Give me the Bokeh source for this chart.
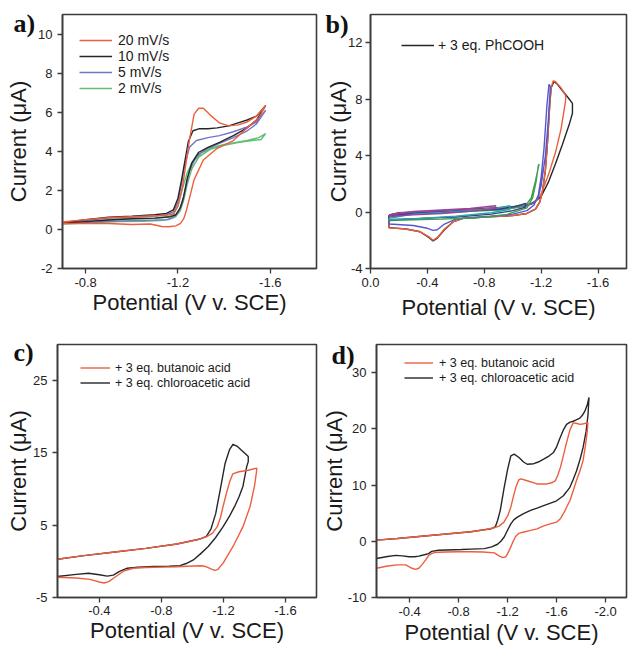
from bokeh.plotting import figure
from bokeh.models import Range1d, FixedTicker, PrintfTickFormatter, Legend, LegendItem
from bokeh.layouts import column, row
from bokeh.embed import file_html
from bokeh.resources import INLINE

# ---------------- data ----------------
# panel a: scan-rate series (potential V vs SCE, current uA)
a_red_v = [-0.70, -0.80, -0.90, -1.00, -1.10, -1.15, -1.18, -1.20, -1.22, -1.235, -1.25, -1.27, -1.29, -1.31, -1.34, -1.38, -1.42, -1.46, -1.50, -1.54, -1.58,
           -1.58, -1.55, -1.50, -1.44, -1.37, -1.31, -1.27, -1.25, -1.235, -1.225, -1.21, -1.19, -1.16, -1.13, -1.08, -1.00, -0.90, -0.80, -0.70]
a_red_i = [0.38, 0.50, 0.60, 0.65, 0.70, 0.72, 0.80, 1.20, 2.20, 3.40, 4.60, 5.90, 6.20, 6.20, 5.85, 5.45, 5.30, 5.35, 5.50, 5.80, 6.35,
           6.35, 5.70, 5.20, 4.55, 4.15, 3.55, 2.55, 1.60, 0.90, 0.55, 0.30, 0.18, 0.14, 0.15, 0.28, 0.25, 0.30, 0.30, 0.30]
a_blk_v = [-0.70, -0.80, -0.90, -1.00, -1.10, -1.15, -1.18, -1.20, -1.215, -1.23, -1.245, -1.265, -1.29, -1.33, -1.37, -1.42, -1.46, -1.50, -1.54, -1.58,
           -1.58, -1.54, -1.50, -1.44, -1.38, -1.33, -1.29, -1.26, -1.24, -1.225, -1.21, -1.19, -1.17, -1.14, -1.10, -1.00, -0.90, -0.80, -0.70]
a_blk_i = [0.35, 0.50, 0.62, 0.68, 0.75, 0.82, 1.00, 1.60, 2.50, 3.50, 4.50, 5.05, 5.15, 5.15, 5.20, 5.30, 5.45, 5.60, 5.80, 6.35,
           6.35, 5.60, 5.20, 4.80, 4.45, 4.20, 3.95, 3.40, 2.60, 1.70, 1.10, 0.75, 0.65, 0.62, 0.58, 0.55, 0.48, 0.40, 0.32]
a_blu_v = [-0.70, -0.80, -0.90, -1.00, -1.10, -1.15, -1.18, -1.20, -1.215, -1.23, -1.25, -1.28, -1.33, -1.38, -1.44, -1.50, -1.54, -1.58,
           -1.58, -1.54, -1.50, -1.44, -1.38, -1.32, -1.28, -1.25, -1.235, -1.22, -1.20, -1.18, -1.15, -1.10, -1.00, -0.90, -0.80, -0.70]
a_blu_i = [0.33, 0.45, 0.58, 0.62, 0.68, 0.75, 0.90, 1.40, 2.30, 3.30, 4.20, 4.55, 4.70, 4.80, 5.00, 5.25, 5.50, 6.10,
           6.10, 5.40, 5.05, 4.70, 4.40, 4.10, 3.75, 3.00, 2.20, 1.40, 0.85, 0.60, 0.50, 0.48, 0.45, 0.42, 0.35, 0.30]
a_grn_v = [-0.70, -0.80, -0.90, -1.00, -1.10, -1.15, -1.18, -1.20, -1.22, -1.24, -1.26, -1.30, -1.35, -1.40, -1.45, -1.50, -1.55, -1.58,
           -1.58, -1.56, -1.52, -1.46, -1.40, -1.34, -1.29, -1.26, -1.24, -1.225, -1.21, -1.19, -1.16, -1.12, -1.05, -0.95, -0.85, -0.75, -0.70]
a_grn_i = [0.30, 0.40, 0.50, 0.55, 0.58, 0.62, 0.75, 1.20, 2.10, 2.90, 3.40, 3.90, 4.20, 4.35, 4.45, 4.55, 4.70, 4.90,
           4.90, 4.60, 4.55, 4.45, 4.30, 4.10, 3.70, 3.10, 2.30, 1.50, 0.95, 0.65, 0.50, 0.45, 0.42, 0.40, 0.35, 0.30, 0.28]
a_labels = ["20 mV/s", "10 mV/s", "5 mV/s", "2 mV/s"]

# panel b: + 3 eq. PhCOOH, several switching potentials
b_blk_v = [-0.13, -0.20, -0.40, -0.60, -0.80, -1.00, -1.08, -1.13, -1.17, -1.20, -1.25, -1.30, -1.35, -1.40, -1.42, -1.42, -1.39, -1.35, -1.31, -1.29,
           -1.27, -1.26, -1.245, -1.23, -1.21, -1.19, -1.16, -1.10, -1.00, -0.80, -0.65, -0.58, -0.52, -0.47, -0.44, -0.41, -0.35, -0.25, -0.13, -0.13]
b_blk_i = [-0.20, -0.05, 0.05, 0.15, 0.25, 0.38, 0.48, 0.60, 0.85, 1.10, 2.10, 3.40, 4.80, 6.30, 7.00, 7.70, 8.10, 8.60, 9.10, 9.25,
           8.80, 7.60, 5.00, 3.00, 1.50, 0.70, 0.20, -0.10, -0.25, -0.35, -0.45, -0.70, -1.25, -1.85, -2.05, -1.80, -1.40, -1.20, -1.10, -0.20]
b_red_v = [-0.13, -0.20, -0.40, -0.60, -0.80, -1.00, -1.08, -1.13, -1.16, -1.20, -1.25, -1.30, -1.34, -1.372, -1.372, -1.34, -1.30, -1.285, -1.27,
           -1.26, -1.245, -1.23, -1.21, -1.19, -1.16, -1.10, -1.00, -0.80, -0.65, -0.58, -0.52, -0.47, -0.44, -0.41, -0.35, -0.25, -0.13, -0.13]
b_red_i = [-0.25, -0.08, 0.03, 0.12, 0.22, 0.35, 0.45, 0.55, 0.75, 1.30, 2.60, 4.20, 5.90, 7.90, 8.25, 8.80, 9.25, 9.30, 8.80,
           7.50, 5.00, 3.00, 1.50, 0.70, 0.20, -0.10, -0.25, -0.35, -0.45, -0.70, -1.20, -1.80, -2.00, -1.75, -1.40, -1.20, -1.12, -0.25]
b_blu_v = [-0.13, -0.25, -0.45, -0.65, -0.85, -1.00, -1.10, -1.15, -1.18, -1.20, -1.23, -1.25, -1.265, -1.255, -1.24, -1.22, -1.20, -1.18,
           -1.15, -1.10, -1.00, -0.85, -0.70, -0.60, -0.52, -0.47, -0.44, -0.40, -0.30, -0.13, -0.13]
b_blu_i = [-0.30, -0.10, 0.00, 0.10, 0.20, 0.30, 0.45, 0.65, 1.10, 1.90, 4.00, 6.50, 8.90, 9.05, 7.50, 4.50, 2.50, 1.20,
           0.50, 0.10, -0.15, -0.30, -0.40, -0.50, -0.85, -1.25, -1.30, -1.15, -0.95, -0.85, -0.30]
b_grn_v = [-0.13, -0.30, -0.50, -0.70, -0.90, -1.05, -1.10, -1.13, -1.16, -1.185, -1.18, -1.165, -1.14, -1.10, -0.95, -0.75, -0.50, -0.30, -0.13, -0.13]
b_grn_i = [-0.35, -0.15, -0.05, 0.05, 0.15, 0.35, 0.60, 1.00, 2.20, 3.40, 3.30, 2.20, 1.00, 0.30, -0.20, -0.40, -0.50, -0.55, -0.60, -0.35]
b_nav_v = [-0.13, -0.30, -0.50, -0.70, -0.90, -1.02, -1.09, -1.09, -1.00, -0.85, -0.60, -0.35, -0.13, -0.13]
b_nav_i = [-0.30, -0.10, 0.00, 0.10, 0.20, 0.40, 0.62, 0.35, 0.10, -0.15, -0.35, -0.45, -0.55, -0.30]
b_tea_v = [-0.13, -0.30, -0.50, -0.70, -0.90, -0.98, -0.98, -0.85, -0.60, -0.35, -0.13, -0.13]
b_tea_i = [-0.45, -0.15, -0.02, 0.10, 0.30, 0.45, 0.20, -0.05, -0.30, -0.45, -0.55, -0.45]
b_pur_v = [-0.13, -0.30, -0.50, -0.70, -0.88, -0.88, -0.70, -0.50, -0.30, -0.13, -0.13]
b_pur_i = [-0.20, 0.05, 0.15, 0.25, 0.45, 0.25, 0.05, -0.10, -0.20, -0.30, -0.20]
b_label = "+ 3 eq. PhCOOH"

# panel c
c_red_v = [-0.13, -0.30, -0.50, -0.70, -0.90, -1.05, -1.09, -1.13, -1.16, -1.18, -1.20, -1.22, -1.24, -1.26, -1.30, -1.36, -1.415,
           -1.415, -1.412, -1.40, -1.372, -1.326, -1.262, -1.198, -1.165, -1.145, -1.12, -1.09, -1.06, -1.00,
           -0.90, -0.80, -0.70, -0.62, -0.56, -0.50, -0.46, -0.43, -0.40, -0.34, -0.25, -0.13]
c_red_i = [0.30, 0.80, 1.30, 1.80, 2.40, 3.10, 3.40, 3.90, 4.80, 6.00, 7.80, 9.50, 11.00, 12.10, 12.40, 12.60, 12.90,
           12.90, 12.20, 10.40, 7.60, 4.80, 2.06, -0.24, -1.10, -1.26, -1.05, -0.75, -0.60, -0.65,
           -0.75, -0.80, -0.85, -0.95, -1.30, -2.20, -2.80, -3.00, -2.85, -2.50, -2.30, -2.20]
c_blk_v = [-0.13, -0.30, -0.50, -0.70, -0.90, -1.05, -1.09, -1.12, -1.15, -1.18, -1.21, -1.24, -1.262, -1.29, -1.32, -1.35, -1.36,
           -1.36, -1.35, -1.326, -1.30, -1.272, -1.24, -1.198, -1.15, -1.102, -1.05, -1.006, -0.96, -0.92, -0.85, -0.75, -0.65,
           -0.58, -0.53, -0.49, -0.45, -0.40, -0.33, -0.25, -0.13]
c_blk_i = [0.30, 0.80, 1.30, 1.80, 2.40, 3.10, 3.45, 4.50, 6.60, 10.00, 13.50, 15.50, 16.20, 15.90, 15.30, 14.70, 14.50,
           13.80, 13.10, 10.40, 8.90, 7.60, 6.30, 4.80, 3.30, 2.06, 1.00, 0.20, -0.30, -0.60, -0.68, -0.72, -0.80,
           -0.95, -1.40, -1.90, -2.05, -1.85, -1.65, -1.80, -2.10]
cd_labels = ["+ 3 eq. butanoic acid", "+ 3 eq. chloroacetic acid"]

# panel d
d_red_v = [-0.13, -0.30, -0.50, -0.70, -0.90, -1.01, -1.09, -1.13, -1.17, -1.20, -1.226, -1.25, -1.27, -1.29, -1.31, -1.36, -1.44, -1.52,
           -1.56, -1.59, -1.61, -1.63, -1.65, -1.67, -1.69, -1.71, -1.735, -1.76, -1.79, -1.82, -1.855,
           -1.855, -1.85, -1.835, -1.815, -1.79, -1.762, -1.735, -1.708, -1.68, -1.655, -1.63, -1.60, -1.547, -1.49, -1.44, -1.38,
           -1.333, -1.29, -1.266, -1.245, -1.226, -1.20, -1.185, -1.16, -1.13, -1.092, -1.00, -0.90, -0.80, -0.69, -0.60, -0.56,
           -0.53, -0.50, -0.475, -0.448, -0.42, -0.368, -0.30, -0.22, -0.13]
d_red_i = [0.20, 0.50, 0.90, 1.30, 1.70, 2.06, 2.40, 2.70, 3.40, 4.50, 6.06, 8.20, 9.80, 10.90, 11.10, 10.76, 10.20, 10.20,
           10.40, 10.80, 11.80, 13.10, 14.80, 16.60, 18.30, 19.90, 21.06, 21.00, 20.80, 20.90, 21.10,
           21.10, 19.60, 17.00, 14.30, 12.50, 10.80, 9.00, 7.20, 6.00, 4.90, 4.00, 3.40, 3.10, 2.70, 2.20, 1.90,
           1.65, 1.40, 0.90, 0.00, -1.00, -2.20, -2.76, -2.90, -2.60, -2.06, -1.90, -1.85, -1.85, -1.90, -2.00, -2.40,
           -3.35, -4.20, -4.80, -5.00, -4.80, -4.20, -4.20, -4.40, -4.80]
d_blk_v = [-0.13, -0.30, -0.50, -0.70, -0.90, -1.01, -1.065, -1.10, -1.118, -1.14, -1.172, -1.20, -1.226, -1.253, -1.293, -1.33, -1.36,
           -1.413, -1.45, -1.494, -1.54, -1.574, -1.60, -1.628, -1.655, -1.681, -1.71, -1.735, -1.76, -1.789, -1.81, -1.829, -1.85, -1.864,
           -1.864, -1.856, -1.84, -1.815, -1.79, -1.762, -1.735, -1.708, -1.68, -1.655, -1.60, -1.55, -1.494, -1.44, -1.387, -1.33,
           -1.28, -1.25, -1.226, -1.20, -1.172, -1.145, -1.118, -1.07, -1.011, -0.90, -0.824, -0.70, -0.636, -0.58, -0.555, -0.52,
           -0.475, -0.44, -0.395, -0.34, -0.287, -0.22, -0.13]
d_blk_i = [0.20, 0.50, 0.90, 1.30, 1.70, 2.06, 2.20, 2.60, 3.70, 5.50, 9.60, 12.80, 15.20, 15.50, 14.90, 14.10, 13.70,
           13.80, 14.10, 14.60, 15.20, 15.80, 16.80, 18.40, 19.80, 20.80, 21.20, 21.35, 21.60, 21.90, 22.40, 23.10, 24.30, 25.60,
           25.60, 22.50, 19.50, 16.60, 14.50, 12.50, 11.00, 9.60, 8.80, 8.10, 7.20, 6.80, 6.35, 5.90, 5.50, 4.90,
           4.30, 3.80, 3.10, 2.00, 0.76, 0.00, -0.53, -1.00, -1.30, -1.40, -1.47, -1.55, -1.60, -1.80, -2.20, -2.40,
           -2.65, -2.75, -2.76, -2.60, -2.50, -2.70, -3.06]

# axes
a_xticks = [-0.8, -1.2, -1.6]
a_yticks = [-2, 0, 2, 4, 6, 8, 10]
b_xticks = [0.0, -0.4, -0.8, -1.2, -1.6]
b_yticks = [-4, 0, 4, 8, 12]
c_xticks = [-0.4, -0.8, -1.2, -1.6]
c_yticks = [-5, 5, 15, 25]
d_xticks = [-0.4, -0.8, -1.2, -1.6, -2.0]
d_yticks = [-10, 0, 10, 20, 30]
x_title = "Potential (V v. SCE)"
y_title = "Current (\u03bcA)"
panel_tags = ["a)", "b)", "c)", "d)"]

# ---------------- styling ----------------
SANS = "Liberation Sans"
SERIF = "Liberation Serif"
RED = "#ec5f3e"
BLACK = "#262626"
FRAME = "#3c3c3c"
LW = 1.4


def make_fig(w, h, xr, yr, xt, yt, bl, bt, br, bb, xls, xlo, yls, ylo):
    p = figure(width=w, height=h, x_range=Range1d(*xr), y_range=Range1d(*yr),
               output_backend="svg", toolbar_location=None,
               min_border_left=bl, min_border_top=bt, min_border_right=br, min_border_bottom=bb)
    p.grid.visible = False
    p.background_fill_color = "white"
    p.border_fill_color = "white"
    p.outline_line_color = FRAME
    p.outline_line_width = 1.6
    p.xaxis.ticker = FixedTicker(ticks=xt)
    p.yaxis.ticker = FixedTicker(ticks=yt)
    p.xaxis.formatter = PrintfTickFormatter(format="%.1f")
    p.yaxis.formatter = PrintfTickFormatter(format="%d")
    p.xaxis.axis_label = x_title
    p.yaxis.axis_label = y_title
    for ax in (p.xaxis[0], p.yaxis[0]):
        ax.axis_line_color = FRAME
        ax.axis_line_width = 1.6
        ax.major_tick_line_color = FRAME
        ax.major_tick_line_width = 1.3
        ax.major_tick_out = 5
        ax.major_tick_in = 0
        ax.minor_tick_line_color = None
        ax.major_label_text_font = SANS
        ax.major_label_text_font_size = "13px"
        ax.major_label_text_color = "#222222"
        ax.axis_label_text_font = SANS
        ax.axis_label_text_font_size = "22px"
        ax.axis_label_text_font_style = "normal"
        ax.axis_label_text_color = "#1a1a1a"
    p.xaxis.major_label_standoff = xls
    p.xaxis.axis_label_standoff = xlo
    p.yaxis.major_label_standoff = yls
    p.yaxis.axis_label_standoff = ylo
    return p


def add_legend(p, items, loc, gw, gh, standoff, fs):
    leg = Legend(items=items, location=loc, glyph_width=gw, glyph_height=gh, label_height=gh,
                 label_standoff=standoff, spacing=0, padding=0, margin=0,
                 border_line_color=None, background_fill_alpha=0,
                 label_text_font=SANS, label_text_font_size=fs, label_text_color="#1a1a1a")
    p.add_layout(leg)


def add_tag(p, text, x_off, drop):
    # panel letter drawn through the (side-panel) title so it is not clipped by the frame
    t = p.title
    t.text = text
    t.align = "left"
    t.vertical_align = "bottom"
    t.offset = x_off
    t.standoff = -2 * drop
    t.text_font = SERIF
    t.text_font_style = "bold"
    t.text_font_size = "26px"
    t.text_color = "#111111"


# ---- panel a ----
pa = make_fig(318, 325, (-0.7, -1.8), (-2, 11), a_xticks, a_yticks, 62, 14, 2, 57, 4, 0, 5, 4)
ra_g = pa.line(a_grn_v, a_grn_i, line_color="#5fbf72", line_width=LW)
ra_b = pa.line(a_blu_v, a_blu_i, line_color="#7474c8", line_width=LW)
ra_k = pa.line(a_blk_v, a_blk_i, line_color=BLACK, line_width=LW)
ra_r = pa.line(a_red_v, a_red_i, line_color=RED, line_width=LW)
add_legend(pa, [LegendItem(label=a_labels[0], renderers=[ra_r]),
                LegendItem(label=a_labels[1], renderers=[ra_k]),
                LegendItem(label=a_labels[2], renderers=[ra_b]),
                LegendItem(label=a_labels[3], renderers=[ra_g])],
           (17, 172), 33, 16, 6, "14px")
add_tag(pa, panel_tags[0], -49, 23)

# ---- panel b ----
pb = make_fig(310, 325, (0.0, -1.8), (-4, 14), b_xticks, b_yticks, 52, 14, 2, 54, 4, 5, 3, -6)
rb_k = pb.line(b_blk_v, b_blk_i, line_color=BLACK, line_width=LW)
pb.line(b_red_v, b_red_i, line_color=RED, line_width=LW)
pb.line(b_blu_v, b_blu_i, line_color="#5656cc", line_width=LW)
pb.line(b_grn_v, b_grn_i, line_color="#3f9f4a", line_width=LW)
pb.line(b_nav_v, b_nav_i, line_color="#2f3f8a", line_width=LW)
pb.line(b_tea_v, b_tea_i, line_color="#2ea3a8", line_width=LW)
pb.line(b_pur_v, b_pur_i, line_color="#9a3fa6", line_width=LW)
add_legend(pb, [LegendItem(label=b_label, renderers=[rb_k])], (31, 215), 33, 16, 4, "14px")
add_tag(pb, panel_tags[1], -45, 24)

# ---- panel c ----
pc = make_fig(318, 322, (-0.13, -1.8), (-5, 30), c_xticks, c_yticks, 57, 19, 2, 50, 3, 0, 5, -1)
rc_k = pc.line(c_blk_v, c_blk_i, line_color=BLACK, line_width=LW)
rc_r = pc.line(c_red_v, c_red_i, line_color=RED, line_width=LW)
add_legend(pc, [LegendItem(label=cd_labels[0], renderers=[rc_r]),
                LegendItem(label=cd_labels[1], renderers=[rc_k])],
           (23, 207), 30, 15, 5, "12.5px")
add_tag(pc, panel_tags[2], -44, 22)

# ---- panel d ----
pdd = make_fig(310, 322, (-0.13, -2.17), (-10, 35), d_xticks, d_yticks, 57, 18, 2, 50, 4, 1, 5, -2)
rd_k = pdd.line(d_blk_v, d_blk_i, line_color=BLACK, line_width=LW)
rd_r = pdd.line(d_red_v, d_red_i, line_color=RED, line_width=LW)
add_legend(pdd, [LegendItem(label=cd_labels[0], renderers=[rd_r]),
                 LegendItem(label=cd_labels[1], renderers=[rd_k])],
           (28, 212), 29, 15, 6, "12.5px")
add_tag(pdd, panel_tags[3], -45, 25)

layout = column(row(pa, pb), row(pc, pdd))
open("out.html", "w").write(file_html(layout, INLINE))
